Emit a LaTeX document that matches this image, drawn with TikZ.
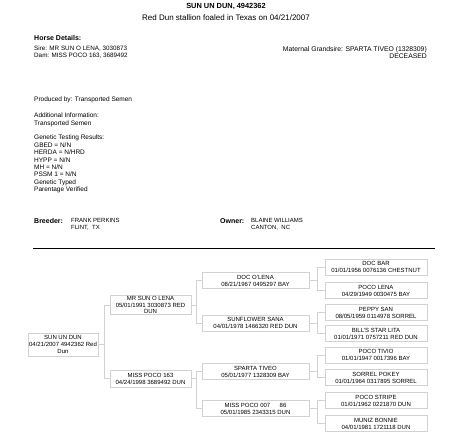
\documentclass[tikz,border=0pt]{standalone}
\usepackage{fontspec}
\setmainfont{Liberation Sans}
\tikzset{
  horse/.style={draw=gray!35, fill=white, inner sep=0pt, align=center,
    font=\fontsize{6}{6.9}\selectfont},
  gen1/.style={horse, minimum width=70pt, minimum height=23pt},
  gen2/.style={horse, minimum width=81pt, minimum height=19pt},
  gen3/.style={horse, minimum width=107pt, minimum height=16pt},
  gen4/.style={horse, minimum width=102pt, minimum height=16pt},
  link/.style={draw=gray!35, line width=0.5pt},
  info/.style={inner sep=0pt, align=left, anchor=north west,
    font=\fontsize{6.5}{7.2}\selectfont},
}
\begin{document}
\begin{tikzpicture}[x=1pt,y=-1pt]
\useasboundingbox (0,0) rectangle (453,434);

% header
\node[inner sep=0pt, font=\fontsize{7.4}{8}\selectfont\bfseries] (title) at (226,6) {SUN UN DUN, 4942362};
\node[inner sep=0pt, font=\fontsize{8}{8}\selectfont] (subtitle) at (226,17.5) {Red Dun stallion foaled in Texas on 04/21/2007};

\node[info, font=\fontsize{7}{7.5}\selectfont\bfseries] (details) at (34,35.5) {Horse Details:};
\node[info, font=\fontsize{6.3}{7}\selectfont] (parents) at (34,46) {Sire: MR SUN O LENA, 3030873\\Dam: MISS POCO 163, 3689492};
\node[info, anchor=north east, align=right, font=\fontsize{6.8}{7.4}\selectfont] (grandsire) at (427,46) {Maternal Grandsire: SPARTA TIVEO (1328309)\\DECEASED};

\node[info] (produced) at (34,97) {Produced by: Transported Semen};
\node[info] (additional) at (34,113) {Additional Information:\\Transported Semen};
\node[info, font=\fontsize{6.5}{7.4}\selectfont] (genetic) at (34,135) {Genetic Testing Results:\\GBED = N/N\\HERDA = N/HRD\\HYPP = N/N\\MH = N/N\\PSSM 1 = N/N\\Genetic Typed\\Parentage Verified};

\node[info, font=\fontsize{7}{7}\selectfont\bfseries] (breeder) at (34,218.5) {Breeder:};
\node[info, font=\fontsize{6}{6.8}\selectfont] (breederinfo) at (71,218) {FRANK PERKINS\\FLINT,\ \ TX};
\node[info, font=\fontsize{7}{7}\selectfont\bfseries] (owner) at (220,218.5) {Owner:};
\node[info, font=\fontsize{6}{6.8}\selectfont] (ownerinfo) at (251,218) {BLAINE WILLIAMS\\CANTON,\ \ NC};

\coordinate (ruleL) at (33,248);
\coordinate (ruleR) at (435,248);
\draw[line width=0.9pt] (ruleL) -- (ruleR);

% pedigree
\node[gen1] (sun) at (63,344.5) {SUN UN DUN\\04/21/2007 4942362 Red\\Dun};

\node[gen2] (sire) at (150.5,305) {MR SUN O LENA\\05/01/1991 3030873 RED\\DUN};
\node[gen2, minimum height=17pt] (dam) at (150.5,378.5) {MISS POCO 163\\04/24/1998 3689492 DUN};

\node[gen3] (olena) at (255.5,280.5) {DOC O'LENA\\08/21/1967 0495297 BAY};
\node[gen3] (sunflower) at (255.5,323) {SUNFLOWER SANA\\04/01/1978 1466320 RED DUN};
\node[gen3] (sparta) at (255.5,371.5) {SPARTA TIVEO\\05/01/1977 1328309 BAY};
\node[gen3] (miss007) at (255.5,408.5) {MISS POCO 007\quad\ \ 86\\05/01/1985 2343315 DUN};

\node[gen4] (docbar) at (376,267) {DOC BAR\\01/01/1956 0076136 CHESTNUT};
\node[gen4] (pocolena) at (376,290.5) {POCO LENA\\04/29/1949 0030475 BAY};
\node[gen4] (peppy) at (376,312.5) {PEPPY SAN\\08/05/1959 0114978 SORREL};
\node[gen4] (lita) at (376,333.5) {BILL'S STAR LITA\\01/01/1971 0757211 RED DUN};
\node[gen4] (tivio) at (376,355) {POCO TIVIO\\01/01/1947 0017396 BAY};
\node[gen4] (pokey) at (376,377.5) {SORREL POKEY\\01/01/1964 0317895 SORREL};
\node[gen4] (stripe) at (376,400.5) {POCO STRIPE\\01/01/1962 0221870 DUN};
\node[gen4] (bonnie) at (376,423.5) {MUNIZ BONNIE\\04/01/1981 1721118 DUN};

\draw[link] (sun.east) -- ++(6,0) |- (sire.west);
\draw[link] (sun.east) -- ++(6,0) |- (dam.west);
\draw[link] (sire.east) -- ++(5.5,0) |- (olena.west);
\draw[link] (sire.east) -- ++(5.5,0) |- (sunflower.west);
\draw[link] (dam.east) -- ++(5.5,0) |- (sparta.west);
\draw[link] (dam.east) -- ++(5.5,0) |- (miss007.west);
\draw[link] (olena.east) -- ++(8,0) |- (docbar.west);
\draw[link] (olena.east) -- ++(8,0) |- (pocolena.west);
\draw[link] (sunflower.east) -- ++(8,0) |- (peppy.west);
\draw[link] (sunflower.east) -- ++(8,0) |- (lita.west);
\draw[link] (sparta.east) -- ++(8,0) |- (tivio.west);
\draw[link] (sparta.east) -- ++(8,0) |- (pokey.west);
\draw[link] (miss007.east) -- ++(8,0) |- (stripe.west);
\draw[link] (miss007.east) -- ++(8,0) |- (bonnie.west);
\end{tikzpicture}
\end{document}
